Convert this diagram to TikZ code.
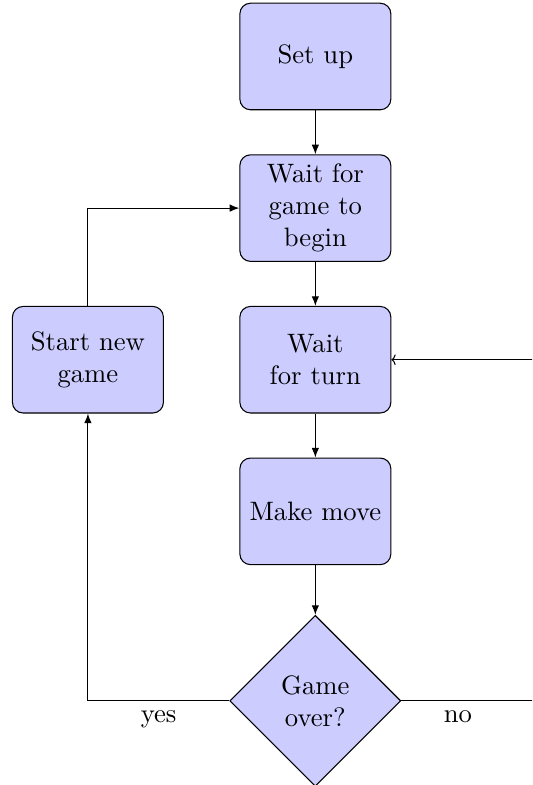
\documentclass[tikz,border=0pt]{standalone}
\usepackage{tikz}
\usetikzlibrary{arrows.meta,shapes.geometric,positioning}
\tikzset{
  stepbox/.style={rectangle, draw, fill=blue!20, rounded corners, text width=5em, align=center, minimum height=4em},
  decbox/.style={diamond, draw, fill=blue!20, text width=4.5em, align=center, inner sep=0pt},
  line/.style={draw, -{Latex[length=3.6pt, width=2.8pt]}},
  lbl/.style={font=\normalsize},
}
\begin{document}
\begin{tikzpicture}
\useasboundingbox (-4.16,0.745) rectangle (2.86,-9.61);
\clip (-4.16,0.745) rectangle (2.86,-9.61);
% ---------------- main column
\node[stepbox] (setup) at (0,0) {Set up};
\node[stepbox] (waitgame) at (0,-2) {Wait for game to begin};
\node[stepbox] (waitturn) at (0,-4) {Wait for turn};
\node[stepbox] (move) at (0,-6) {Make move};
\node[decbox] (over) at (0,-8.5) {Game over?};
% ---------------- side
\node[stepbox] (newgame) at (-3,-4) {Start new game};
\coordinate (back) at (3.0,-8.5);
\draw[line] (setup) -- (waitgame);
\draw[line] (waitgame) -- (waitturn);
\draw[line] (waitturn) -- (move);
\draw[line] (move) -- (over);
\draw[line] (over) -| node[below, pos=0.25, lbl] {yes} (newgame);
\draw[line] (newgame) |- (waitgame);
\draw (over) -- node[below, pos=0.4, lbl] {no} (back);
\draw[-{To[length=1.6pt, width=4pt]}] (back) |- (waitturn);
\end{tikzpicture}
\end{document}
